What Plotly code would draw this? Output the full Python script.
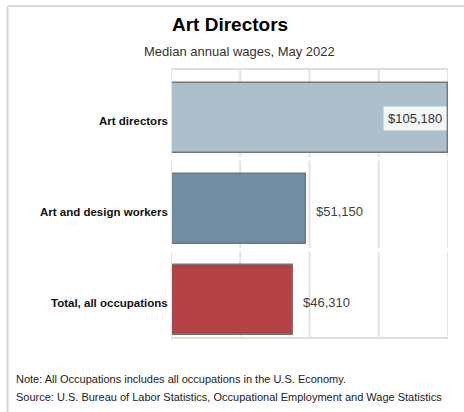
import plotly.graph_objects as go

# Median annual wages, May 2022
categories = ["Art directors", "Art and design workers", "Total, all occupations"]
wages = [105180, 51150, 46310]
bar_colors = ["#adbfcb", "#708da3", "#b44143"]
title_text = "Art Directors"
subtitle_text = "Median annual wages, May 2022"
note_text = "Note: All Occupations includes all occupations in the U.S. Economy."
source_text = "Source: U.S. Bureau of Labor Statistics, Occupational Employment and Wage Statistics"

W, H = 464, 412
M_L, M_R, M_T, M_B = 171, 16, 69, 74
PW, PH = W - M_L - M_R, H - M_T - M_B


def px_x(p):
    return (p - M_L) / PW


def px_y(p):
    return (H - M_B - p) / PH


FONT = "Liberation Sans, Arial, sans-serif"
x_max = max(wages)
positions = list(range(len(categories)))

fig = go.Figure()
fig.add_trace(go.Bar(
    x=wages,
    y=positions,
    orientation="h",
    width=0.76,
    marker=dict(color=bar_colors, line=dict(color="#767676", width=1.4)),
    hoverinfo="skip",
    showlegend=False,
))

shapes = []
# vertical gridlines, broken into one segment per category band
y_top, y_bot = -0.538, len(categories) - 1 + 0.418
bands = []
start = y_top
for i in range(len(categories) - 1):
    bands.append((start, i + 0.43))
    start = i + 0.47
bands.append((start, y_bot))
for k in range(5):
    gx = x_max * k / 4
    for b0, b1 in bands:
        shapes.append(dict(type="line", xref="x", yref="y", x0=gx, x1=gx, y0=b0, y1=b1,
                           line=dict(color="#e3e3e3", width=2),
                           layer="above" if k == 0 else "below"))
# plot frame top / bottom
for yy in (0, 1):
    shapes.append(dict(type="line", xref="x", yref="paper", x0=0, x1=x_max, y0=yy, y1=yy,
                       line=dict(color="#dedede", width=2), layer="below"))
# outer chart frame (top and left edges)
shapes.append(dict(type="line", xref="paper", yref="paper",
                   x0=px_x(7.5), x1=px_x(470), y0=px_y(6), y1=px_y(6),
                   line=dict(color="#d9d9d9", width=2)))
shapes.append(dict(type="line", xref="paper", yref="paper",
                   x0=px_x(7.5), x1=px_x(7.5), y0=px_y(6), y1=px_y(420),
                   line=dict(color="#d9d9d9", width=2)))

annotations = []
# category labels
for pos, name in zip(positions, categories):
    annotations.append(dict(x=0, y=pos, xref="paper", yref="y", text=f"<b>{name}</b>",
                            showarrow=False, xanchor="right", yanchor="middle",
                            xshift=-1, yshift=-3,
                            font=dict(family=FONT, size=11.5, color="#111")))
# value labels
for pos, val in zip(positions, wages):
    label = f"${val:,}"
    if val == x_max:
        annotations.append(dict(x=val, y=pos, xref="x", yref="y", text=label,
                                showarrow=False, xanchor="right", yanchor="middle",
                                xshift=-1, yshift=-1, bgcolor="rgba(255,255,255,0.85)",
                                borderpad=4,
                                font=dict(family=FONT, size=13, color="#333")))
    else:
        annotations.append(dict(x=val, y=pos, xref="x", yref="y", text=label,
                                showarrow=False, xanchor="left", yanchor="middle",
                                xshift=8, yshift=-3,
                                font=dict(family=FONT, size=13, color="#444")))
# title, subtitle, footnotes
annotations.append(dict(x=px_x(230), y=px_y(24), xref="paper", yref="paper",
                        text=f"<b>{title_text}</b>", showarrow=False,
                        xanchor="center", yanchor="middle",
                        font=dict(family=FONT, size=19, color="#000")))
annotations.append(dict(x=px_x(239), y=px_y(51), xref="paper", yref="paper",
                        text=subtitle_text, showarrow=False,
                        xanchor="center", yanchor="middle",
                        font=dict(family=FONT, size=13, color="#333")))
annotations.append(dict(x=px_x(14), y=px_y(379), xref="paper", yref="paper",
                        text=note_text, showarrow=False,
                        xanchor="left", yanchor="middle",
                        font=dict(family=FONT, size=11, color="#222")))
annotations.append(dict(x=px_x(14), y=px_y(397.5), xref="paper", yref="paper",
                        text=source_text, showarrow=False,
                        xanchor="left", yanchor="middle",
                        font=dict(family=FONT, size=11, color="#222")))

fig.update_layout(
    width=W, height=H,
    margin=dict(l=M_L, r=M_R, t=M_T, b=M_B),
    paper_bgcolor="white", plot_bgcolor="white",
    bargap=0,
    xaxis=dict(range=[0, x_max], showgrid=False, zeroline=False, showticklabels=False,
               showline=False, fixedrange=True),
    yaxis=dict(range=[y_bot, y_top], showgrid=False, zeroline=False, showticklabels=False,
               showline=False, fixedrange=True),
    shapes=shapes,
    annotations=annotations,
)

fig.write_html("out.html", config={"displayModeBar": False})
